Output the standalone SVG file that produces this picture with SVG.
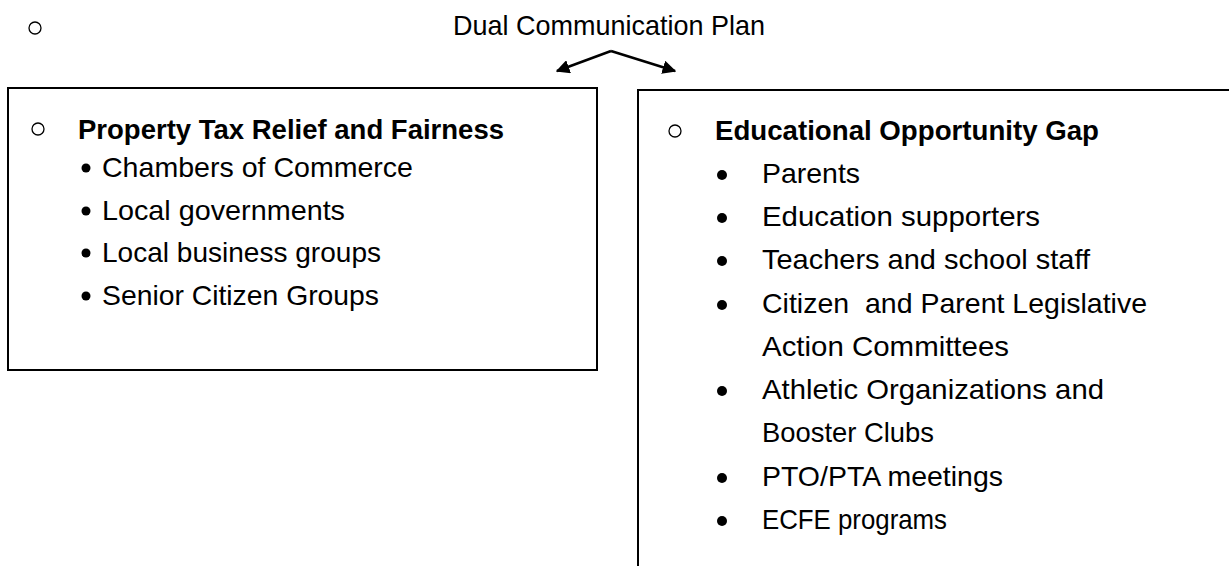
<svg xmlns="http://www.w3.org/2000/svg" width="1229" height="566" viewBox="0 0 1229 566">
<style>
text{font-family:"Liberation Sans",Arial,sans-serif;fill:#000;font-size:28px}
.b{font-weight:bold}
.box{fill:#fff;stroke:#000;stroke-width:2}
.ring{fill:none;stroke:#000;stroke-width:1.3}
.edge{fill:none;stroke:#000;stroke-width:2.5}
</style>
<defs>
<marker id="ah" viewBox="0 0 10 10" refX="9" refY="5" markerWidth="5.5" markerHeight="5.5" orient="auto" markerUnits="strokeWidth">
<path d="M0,0 L10,5 L0,10 z" fill="#000"/>
</marker>
</defs>
<rect width="1229" height="566" fill="#fff"/>
<g id="title">
<circle class="ring" cx="35" cy="28" r="6"/>
<text x="609" y="35" text-anchor="middle" font-size="21" textLength="312" lengthAdjust="spacingAndGlyphs">Dual Communication Plan</text>
</g>
<g id="connectors">
<path class="edge" d="M611,51 L557,71" marker-end="url(#ah)"/>
<path class="edge" d="M611,51 L675,71" marker-end="url(#ah)"/>
</g>
<g id="property-tax">
<rect class="box" x="8" y="88" width="589" height="282"/>
<circle class="ring" cx="38" cy="129" r="6"/>
<text class="b" x="78" y="139" textLength="426" lengthAdjust="spacingAndGlyphs">Property Tax Relief and Fairness</text>
<circle cx="86" cy="168" r="4.5"/><text x="102" y="177" textLength="311" lengthAdjust="spacingAndGlyphs">Chambers of Commerce</text>
<circle cx="86" cy="211" r="4.5"/><text x="102" y="220" textLength="243" lengthAdjust="spacingAndGlyphs">Local governments</text>
<circle cx="86" cy="253" r="4.5"/><text x="102" y="262" textLength="279" lengthAdjust="spacingAndGlyphs">Local business groups</text>
<circle cx="86" cy="296" r="4.5"/><text x="102" y="305" textLength="277" lengthAdjust="spacingAndGlyphs">Senior Citizen Groups</text>
</g>
<g id="educational-gap">
<rect class="box" x="638" y="90" width="600" height="490"/>
<circle class="ring" cx="675" cy="131" r="6"/>
<text class="b" x="715" y="140" textLength="384" lengthAdjust="spacingAndGlyphs">Educational Opportunity Gap</text>
<circle cx="722" cy="175" r="5"/><text x="762" y="183" textLength="98" lengthAdjust="spacingAndGlyphs">Parents</text>
<circle cx="722" cy="218" r="5"/><text x="762" y="226" textLength="278" lengthAdjust="spacingAndGlyphs">Education supporters</text>
<circle cx="722" cy="261" r="5"/><text x="762" y="269" textLength="328" lengthAdjust="spacingAndGlyphs">Teachers and school staff</text>
<circle cx="722" cy="305" r="5"/><text x="762" y="313" textLength="385" lengthAdjust="spacingAndGlyphs" xml:space="preserve">Citizen  and Parent Legislative</text>
<text x="762" y="356" textLength="247" lengthAdjust="spacingAndGlyphs">Action Committees</text>
<circle cx="722" cy="391" r="5"/><text x="762" y="399" textLength="342" lengthAdjust="spacingAndGlyphs">Athletic Organizations and</text>
<text x="762" y="442" textLength="172" lengthAdjust="spacingAndGlyphs">Booster Clubs</text>
<circle cx="722" cy="478" r="5"/><text x="762" y="486" textLength="241" lengthAdjust="spacingAndGlyphs">PTO/PTA meetings</text>
<circle cx="722" cy="521" r="5"/><text x="762" y="529" textLength="185" lengthAdjust="spacingAndGlyphs">ECFE programs</text>
</g>
</svg>
